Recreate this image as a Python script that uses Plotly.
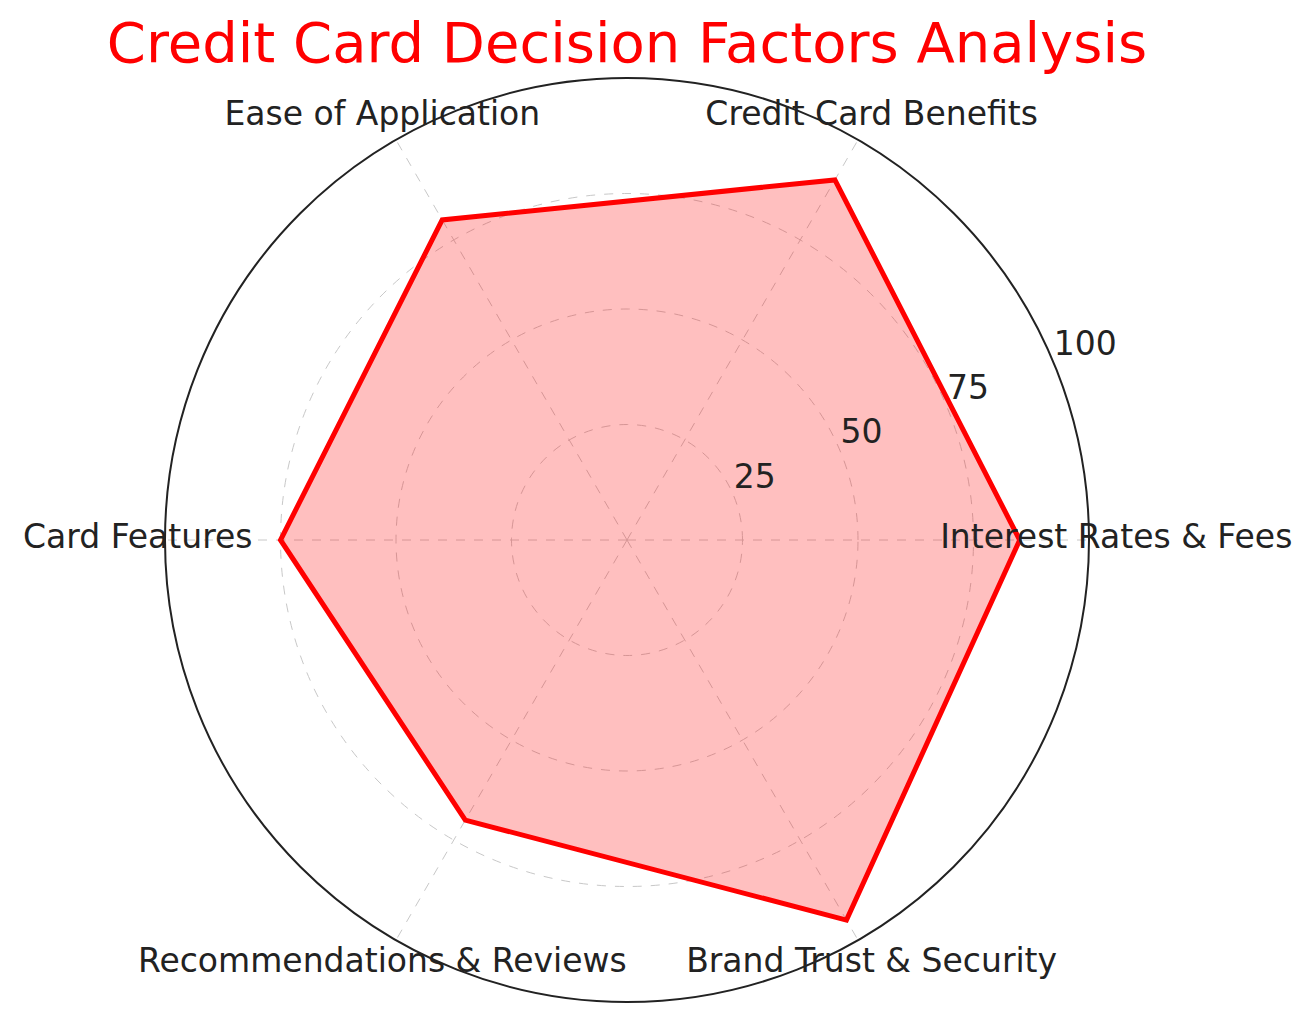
import numpy as np
import plotly.graph_objects as go

# radar data
categories = ["Interest Rates & Fees", "Credit Card Benefits", "Ease of Application",
              "Card Features", "Recommendations & Reviews", "Brand Trust & Security"]
scores = [85, 90, 80, 75, 70, 95]
radial_ticks = [25, 50, 75, 100]

n = len(categories)
angles = [i * 360 / n for i in range(n)]

W, H = 1316, 1022
txt_color = "#222222"
font_family = "DejaVu Sans"

# polar centre / radius in figure px (page has an 8px body margin)
cx, cy, rad = 619, 532, 462
label_r = 106  # category labels sit a bit outside the frame
rad2 = rad * label_r / 100


def dom(r):
    return dict(x=[(cx - r) / W, (cx + r) / W],
                y=[max(0, (H - cy - r) / H), (H - cy + r) / H])


fig = go.Figure()

# filled polygon, closed back to the first point
fig.add_trace(go.Scatterpolar(
    r=scores + scores[:1],
    theta=angles + angles[:1],
    mode="lines",
    fill="toself",
    fillcolor="rgba(255,0,0,0.25)",
    line=dict(color="red", width=5),
    hoverinfo="skip",
))

# radial tick labels at 22.5 deg
fig.add_trace(go.Scatterpolar(
    r=radial_ticks,
    theta=[22.5] * len(radial_ticks),
    mode="text",
    text=[str(t) for t in radial_ticks],
    textposition="top right",
    textfont=dict(size=33, color=txt_color, family=font_family),
    cliponaxis=False,
    hoverinfo="skip",
))

# category labels on a second, invisible polar a bit larger than the first
fig.add_trace(go.Scatterpolar(
    r=[label_r - 0.1] * n,
    theta=angles,
    mode="text",
    text=categories,
    textposition="middle center",
    textfont=dict(size=33, color=txt_color, family=font_family),
    cliponaxis=False,
    hoverinfo="skip",
    subplot="polar2",
))

fig.update_layout(
    width=W,
    height=H,
    margin=dict(l=0, r=0, t=0, b=0),
    paper_bgcolor="white",
    showlegend=False,
    font=dict(family=font_family, color=txt_color),
    title=dict(
        text="Credit Card Decision Factors Analysis",
        font=dict(size=56, color="red", family=font_family),
        x=cx / W, xanchor="center",
        yref="container", y=1 - 34 / H, yanchor="middle",
    ),
    polar=dict(
        domain=dom(rad),
        bgcolor="white",
        radialaxis=dict(
            range=[0, 100],
            tickvals=radial_ticks,
            showticklabels=False,
            ticks="",
            showline=False,
            gridcolor="#c8c8c8",
            griddash="dash",
            gridwidth=1.3,
        ),
        angularaxis=dict(
            direction="counterclockwise",
            rotation=0,
            tickmode="array",
            tickvals=angles,
            showticklabels=False,
            ticks="",
            showline=True,
            linecolor=txt_color,
            linewidth=2,
            gridcolor="#c8c8c8",
            griddash="dash",
            gridwidth=1.3,
        ),
    ),
    polar2=dict(
        domain=dom(rad2),
        bgcolor="rgba(0,0,0,0)",
        radialaxis=dict(range=[0, label_r], visible=False),
        angularaxis=dict(direction="counterclockwise", rotation=0, visible=False),
    ),
)

fig.write_html("out.html")
